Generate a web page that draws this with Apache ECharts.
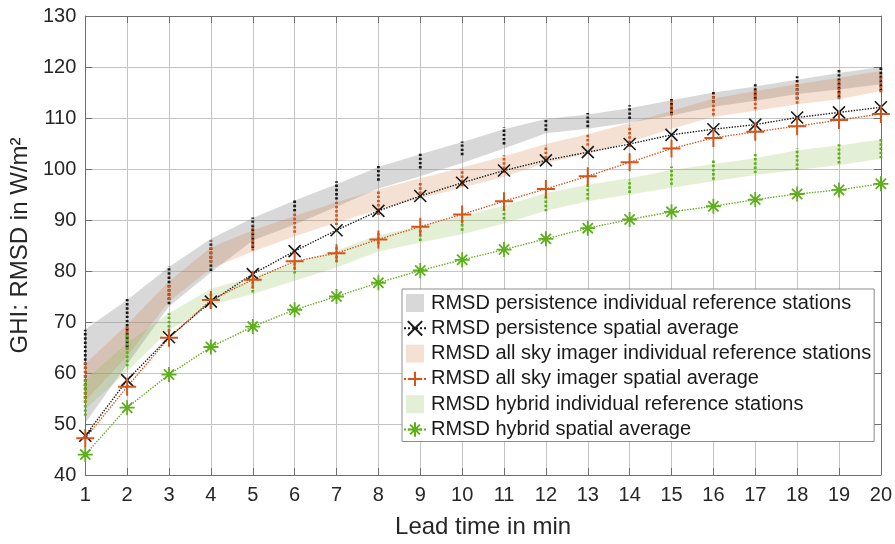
<!DOCTYPE html>
<html>
<head>
<meta charset="utf-8">
<script src="https://cdn.jsdelivr.net/npm/echarts@6/dist/echarts.min.js"></script>
<style>
  html, body { margin: 0; padding: 0; background: #fff; }
  #chart { width: 895px; height: 544px; }
</style>
</head>
<body>
<div id="chart"></div>
<script>
// ---- data ----
const leadTime = [1,2,3,4,5,6,7,8,9,10,11,12,13,14,15,16,17,18,19,20];
const yTicks = [40,50,60,70,80,90,100,110,120,130];

const persistAvg = [47.7,58.6,67.0,74.0,79.4,83.9,88.0,91.8,94.7,97.3,99.7,101.7,103.3,104.9,106.7,107.8,108.7,110.1,111.1,112.1];
const asiAvg     = [47.2,57.3,66.9,74.3,78.3,81.9,83.5,86.2,88.7,91.1,93.7,96.1,98.6,101.3,104.0,106.1,107.3,108.4,109.6,110.8];
const hybridAvg  = [44.0,53.2,59.7,65.1,69.1,72.4,75.0,77.7,80.1,82.2,84.2,86.3,88.4,90.1,91.6,92.7,94.0,95.1,95.9,97.1];

const persistBandLow  = [50.2,61.7,73.1,79.7,86.0,89.1,92.6,96.2,98.6,101.2,104.0,107.0,107.9,109.1,110.5,112.2,113.4,114.7,115.6,116.6];
const persistBandHigh = [68.6,74.3,80.8,86.3,90.4,93.8,97.0,100.4,102.9,105.3,107.8,109.8,110.7,111.9,113.5,115.0,116.2,117.5,118.8,120.0];
const asiBandLow  = [54.5,63.3,74.0,80.5,83.8,86.8,89.5,92.0,94.2,96.3,98.5,101.2,103.0,105.3,107.9,110.2,111.4,112.7,113.7,115.3];
const asiBandHigh = [61.8,69.5,78.0,84.6,88.0,90.8,93.5,96.0,98.2,100.3,102.5,104.9,106.8,109.0,111.4,113.8,115.3,116.6,117.9,119.2];
const hybridBandLow  = [52.9,60.3,68.4,73.3,75.5,78.1,80.7,83.8,85.6,87.2,89.3,91.8,93.7,95.0,96.3,97.6,98.8,99.8,100.8,102.0];
const hybridBandHigh = [58.7,65.9,71.7,76.5,78.8,81.7,84.0,87.0,88.8,90.8,92.8,95.3,96.9,98.2,99.8,101.0,102.1,103.7,104.6,105.8];

const persistStationsMin = [55,65,73.5,80,84.5,91.7,94,97.7,100.1,102.7,104.8,107.5,108.2,109.8,110.8,113,113.7,113.7,114,115.3];
const persistStationsMax = [68.5,74.5,81,86,90.5,94,97.6,100.6,103,105.4,108.2,109.9,111,112.5,114.1,115.5,116.6,118.2,119.4,120.2];
const asiStationsMin = [54.2,64.5,74.3,81.7,84,87.5,89,91,94.3,96.6,99.2,102.1,104.6,104.3,110.5,110.5,111.7,112.8,113.7,115];
const asiStationsMax = [62,69,77.2,84.6,89,91.7,93.7,95.8,97.6,100,102.7,104.6,106.9,108.5,113.7,114.7,115.7,117,117.6,118.6];
const hybridStationsMin = [51.6,61.3,68.1,72.6,75.8,79.5,81.7,85.3,85.9,87.9,90.1,91.7,94,95.3,96.9,97.9,99.2,99.8,101.1,102.1];
const hybridStationsMax = [59,67.8,71.7,75.7,78,81.5,85,87.5,88.2,90.5,92.7,94.7,97.2,97.9,100.5,101.7,103,104,105,106];

const names = [
  'RMSD persistence individual reference stations',
  'RMSD persistence spatial average',
  'RMSD all sky imager individual reference stations',
  'RMSD all sky imager spatial average',
  'RMSD hybrid individual reference stations',
  'RMSD hybrid spatial average'
];

// ---- styling ----
const FONT = '"Liberation Sans", Arial, Helvetica, sans-serif';
const BLACK = '#1a1a1a';
const ORANGE = '#d2561c';
const GREEN = '#5fae1c';
const GRAY_BAND = 'rgba(140,140,140,0.34)';
const ORANGE_BAND = 'rgba(205,120,60,0.22)';
const GREEN_BAND = 'rgba(119,180,48,0.20)';

const SYM_X = 'path://M0,0L10,10M10,0L0,10';
const SYM_PLUS = 'path://M5,0L5,10M0,5L10,5';
const SYM_STAR = 'path://M5,0L5,10M0,5L10,5M1.6,1.6L8.4,8.4M8.4,1.6L1.6,8.4';
const SQUARE = 'path://M0,0h10v10h-10z';

function pairs(arr) { return leadTime.map((x, i) => [x, arr[i]]); }

function bandSeries(lo, hi, color, name) {
  return {
    type: 'custom', name: name, z: 1, silent: true,
    data: leadTime.map((x, i) => [x, lo[i], hi[i]]),
    encode: { x: 0, y: [1, 2] },
    renderItem: function (params, api) {
      if (params.dataIndex !== 0) return null;
      const pts = [];
      for (let i = 0; i < leadTime.length; i++) pts.push(api.coord([leadTime[i], lo[i]]));
      for (let i = leadTime.length - 1; i >= 0; i--) pts.push(api.coord([leadTime[i], hi[i]]));
      return { type: 'polygon', shape: { points: pts }, style: { fill: color, stroke: null } };
    }
  };
}

function dotsSeries(mn, mx, color, name) {
  return {
    type: 'custom', name: name, z: 3, silent: true,
    data: leadTime.map((x, i) => [x, mn[i], mx[i]]),
    encode: { x: 0, y: [1, 2] },
    renderItem: function (params, api) {
      const p1 = api.coord([api.value(0), api.value(1)]);
      const p2 = api.coord([api.value(0), api.value(2)]);
      return {
        type: 'line',
        shape: { x1: p1[0], y1: p1[1], x2: p2[0], y2: p2[1] },
        style: { stroke: color, lineWidth: 2.8, lineDash: [2.4, 1.8] }
      };
    }
  };
}

function avgSeries(arr, color, sym, size, bw, name) {
  return {
    type: 'line', name: name, data: pairs(arr), color: color, z: 5,
    symbol: sym, symbolSize: size, showAllSymbol: true,
    lineStyle: { color: color, width: 1.4, type: 'dotted' },
    itemStyle: { color: color, borderColor: color, borderWidth: bw }
  };
}

const chart = echarts.init(document.getElementById('chart'), null, { renderer: 'canvas' });

const axisLineStyle = { color: '#6e6e6e', width: 1 };
const gridLineStyle = { color: '#c4c4c4', width: 1 };

const option = {
  backgroundColor: '#ffffff',
  animation: false,
  textStyle: { fontFamily: FONT },
  grid: { left: 82, right: 13, top: 16, bottom: 64, containLabel: false },
  xAxis: [
    {
      type: 'value', min: 1, max: 20, interval: 1,
      name: 'Lead time in min', nameLocation: 'middle', nameGap: 40,
      nameTextStyle: { fontSize: 24, color: '#262626', fontFamily: FONT },
      axisLine: { show: true, lineStyle: axisLineStyle },
      axisTick: { show: true, inside: true, length: 7, lineStyle: axisLineStyle },
      axisLabel: { fontSize: 20, color: '#262626', margin: 10, fontFamily: FONT },
      splitLine: { show: true, lineStyle: gridLineStyle }
    },
    {
      type: 'value', min: 1, max: 20, interval: 1, position: 'top',
      axisLine: { show: true, lineStyle: axisLineStyle },
      axisTick: { show: true, inside: true, length: 7, lineStyle: axisLineStyle },
      axisLabel: { show: false }, splitLine: { show: false }
    }
  ],
  yAxis: [
    {
      type: 'value', min: yTicks[0], max: yTicks[yTicks.length - 1], interval: 10,
      name: 'GHI: RMSD in W/m²', nameLocation: 'middle', nameGap: 45,
      nameTextStyle: { fontSize: 24, color: '#262626', fontFamily: FONT },
      axisLine: { show: true, lineStyle: axisLineStyle },
      axisTick: { show: true, inside: true, length: 7, lineStyle: axisLineStyle },
      axisLabel: { fontSize: 20, color: '#262626', margin: 9, fontFamily: FONT },
      splitLine: { show: true, lineStyle: gridLineStyle }
    },
    {
      type: 'value', min: yTicks[0], max: yTicks[yTicks.length - 1], interval: 10, position: 'right',
      axisLine: { show: true, lineStyle: axisLineStyle },
      axisTick: { show: true, inside: true, length: 7, lineStyle: axisLineStyle },
      axisLabel: { show: false }, splitLine: { show: false }
    }
  ],
  legend: {
    orient: 'vertical', left: 402, top: 289,
    backgroundColor: '#ffffff', borderColor: '#8c8c8c', borderWidth: 1,
    padding: [4, 3, 2, 1],
    itemWidth: 22, itemHeight: 18, itemGap: 5.3,
    textStyle: { fontSize: 20, color: '#1a1a1a', fontFamily: FONT, lineHeight: 20 },
    data: [
      { name: names[0], icon: SQUARE, itemStyle: { color: GRAY_BAND } },
      { name: names[1] },
      { name: names[2], icon: SQUARE, itemStyle: { color: ORANGE_BAND } },
      { name: names[3] },
      { name: names[4], icon: SQUARE, itemStyle: { color: GREEN_BAND } },
      { name: names[5] }
    ],
    z: 20
  },
  series: [
    bandSeries(persistBandLow, persistBandHigh, GRAY_BAND, names[0]),
    bandSeries(asiBandLow, asiBandHigh, ORANGE_BAND, names[2]),
    bandSeries(hybridBandLow, hybridBandHigh, GREEN_BAND, names[4]),
    dotsSeries(persistStationsMin, persistStationsMax, BLACK, names[0]),
    dotsSeries(asiStationsMin, asiStationsMax, ORANGE, names[2]),
    dotsSeries(hybridStationsMin, hybridStationsMax, GREEN, names[4]),
    avgSeries(persistAvg, BLACK, SYM_X, 12, 1.6, names[1]),
    avgSeries(asiAvg, ORANGE, SYM_PLUS, 18, 2, names[3]),
    avgSeries(hybridAvg, GREEN, SYM_STAR, 15, 1.8, names[5])
  ]
};

chart.setOption(option);
</script>
</body>
</html>
